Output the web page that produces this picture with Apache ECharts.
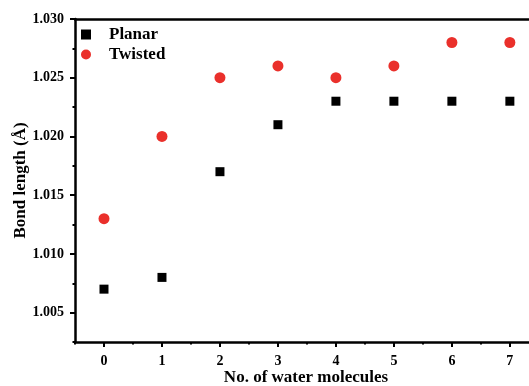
<!DOCTYPE html>
<html><head><meta charset="utf-8">
<script src="https://cdn.jsdelivr.net/npm/echarts@6/dist/echarts.min.js"></script>
<style>html,body{margin:0;padding:0;background:#fff}#c{width:529px;height:386px}</style>
</head><body><div id="c"></div>
<script>
const waterCounts = [0, 1, 2, 3, 4, 5, 6, 7];
const planar = [1.007, 1.008, 1.017, 1.021, 1.023, 1.023, 1.023, 1.023];
const twisted = [1.013, 1.020, 1.025, 1.026, 1.025, 1.026, 1.028, 1.028];
const xTicks = [0, 1, 2, 3, 4, 5, 6, 7];
const xMinorTicks = [-0.5, 0.5, 1.5, 2.5, 3.5, 4.5, 5.5, 6.5];
const yTicks = [1.005, 1.010, 1.015, 1.020, 1.025, 1.030];
const yMinorTicks = [1.0025, 1.0075, 1.0125, 1.0175, 1.0225, 1.0275];
const xMin = -0.5, xMax = 7.33, yMin = 1.0025, yMax = 1.030;

const font = 'Liberation Serif';
const chart = echarts.init(document.getElementById('c'), null, {renderer: 'canvas'});
const axisLine = {show: true, onZero: false, lineStyle: {color: '#000', width: 2.5}};
const noLine = {show: false, onZero: false};
const labelStyle = {fontFamily: font, fontWeight: 'bold', fontSize: 14, color: '#000'};
chart.setOption({
  animation: false,
  backgroundColor: '#fff',
  grid: {left: 75, top: 19, right: 0, bottom: 44, containLabel: false, outerBoundsMode: 'none'},
  legend: {
    left: 76, top: 21, orient: 'vertical', itemGap: 3, itemWidth: 10, itemHeight: 10,
    textStyle: {fontFamily: font, fontWeight: 'bold', fontSize: 17, color: '#000', padding: [0, 0, 0, 13]},
    data: [{name: 'Planar', icon: 'rect'}, {name: 'Twisted', icon: 'circle'}]
  },
  xAxis: [{
    type: 'value', min: xMin, max: xMax, position: 'bottom',
    name: 'No. of water molecules', nameLocation: 'middle', nameGap: 27, nameMoveOverlap: false,
    nameTextStyle: {fontFamily: font, fontWeight: 'bold', fontSize: 17, color: '#000', padding: [0, 0, 0, 8]},
    axisLine: axisLine,
    axisTick: {show: true, inside: false, length: 5, customValues: xTicks, lineStyle: {color: '#000', width: 2}},
    splitLine: {show: false},
    axisLabel: Object.assign({margin: 12, customValues: xTicks, formatter: v => String(v)}, labelStyle)
  }, {
    type: 'value', min: xMin, max: xMax, position: 'bottom', offset: 0,
    axisLine: noLine,
    axisTick: {show: true, inside: false, length: 2.5, customValues: xMinorTicks, lineStyle: {color: '#000', width: 2}},
    axisLabel: {show: false}, splitLine: {show: false}
  }, {
    type: 'value', min: xMin, max: xMax, position: 'top',
    axisLine: axisLine, axisTick: {show: false}, axisLabel: {show: false}, splitLine: {show: false}
  }],
  yAxis: [{
    type: 'value', min: yMin, max: yMax, position: 'left',
    name: 'Bond length (Å)', nameLocation: 'middle', nameGap: 46, nameMoveOverlap: false,
    nameTextStyle: {fontFamily: font, fontWeight: 'bold', fontSize: 17, color: '#000'},
    axisLine: axisLine,
    axisTick: {show: true, inside: false, length: 5, customValues: yTicks, lineStyle: {color: '#000', width: 2}},
    splitLine: {show: false},
    axisLabel: Object.assign({margin: 11, customValues: yTicks, formatter: v => v.toFixed(3)}, labelStyle)
  }, {
    type: 'value', min: yMin, max: yMax, position: 'left', offset: 0,
    axisLine: noLine,
    axisTick: {show: true, inside: false, length: 2.5, customValues: yMinorTicks, lineStyle: {color: '#000', width: 2}},
    axisLabel: {show: false}, splitLine: {show: false}
  }],
  series: [
    {name: 'Planar', type: 'scatter', symbol: 'rect', symbolSize: 9,
     itemStyle: {color: '#000', opacity: 1}, data: waterCounts.map((x, i) => [x, planar[i]])},
    {name: 'Twisted', type: 'scatter', symbol: 'circle', symbolSize: 11,
     itemStyle: {color: '#ea302b', opacity: 1}, data: waterCounts.map((x, i) => [x, twisted[i]])}
  ]
});
</script></body></html>
